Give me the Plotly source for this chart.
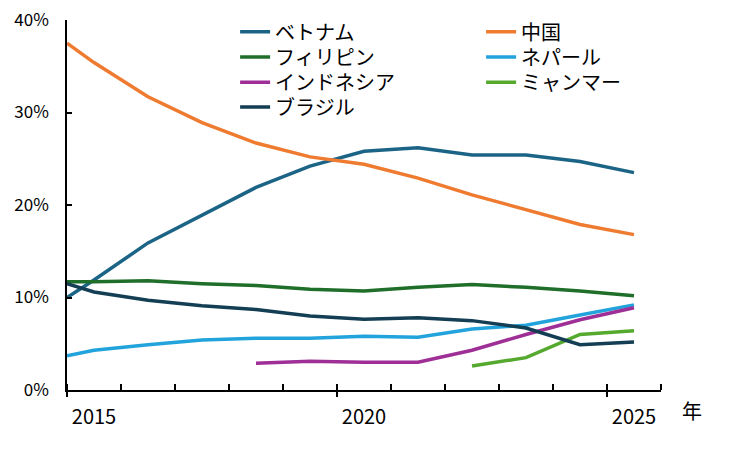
import numpy as np
import plotly.graph_objects as go

# =============================
# DATA (percent share)
# =============================
years = [2014.5, 2015, 2016, 2017, 2018, 2019, 2020, 2021, 2022, 2023, 2024, 2025]
years_indonesia = [2018, 2019, 2020, 2021, 2022, 2023, 2024, 2025]
years_myanmar = [2022, 2023, 2024, 2025]

vietnam = [10.0, 11.9, 15.9, 18.9, 21.9, 24.2, 25.8, 26.2, 25.4, 25.4, 24.7, 23.5]
china = [37.5, 35.4, 31.7, 28.9, 26.7, 25.2, 24.4, 22.9, 21.1, 19.5, 17.9, 16.8]
philippines = [11.7, 11.7, 11.8, 11.5, 11.3, 10.9, 10.7, 11.1, 11.4, 11.1, 10.7, 10.2]
nepal = [3.7, 4.3, 4.9, 5.4, 5.6, 5.6, 5.8, 5.7, 6.6, 7.0, 8.1, 9.2]
brazil = [11.5, 10.6, 9.7, 9.1, 8.7, 8.0, 7.65, 7.8, 7.5, 6.7, 4.9, 5.2]
indonesia = [2.9, 3.1, 3.0, 3.0, 4.3, 6.0, 7.6, 8.9]
myanmar = [2.6, 3.5, 6.0, 6.4]

label_years = [2015, 2020, 2025]
label_text = ["2015", "2020", "2025"]
y_ticks = [0, 10, 20, 30, 40]
y_text = ["0%", "10%", "20%", "30%", "40%"]

FONT = "Noto Sans CJK JP"

# (name, x, y, color, legend row)
series = [
    ("ベトナム", years, vietnam, "#1c6486", "legend"),
    ("中国", years, china, "#ee7b30", "legend"),
    ("フィリピン", years, philippines, "#1f6e2a", "legend2"),
    ("ネパール", years, nepal, "#22a3dc", "legend2"),
    ("インドネシア", years_indonesia, indonesia, "#9e2f96", "legend3"),
    ("ミャンマー", years_myanmar, myanmar, "#55a92f", "legend3"),
    ("ブラジル", years, brazil, "#133e54", "legend4"),
]

fig = go.Figure()
for name, xs, ys, color, leg in series:
    fig.add_trace(go.Scatter(x=xs, y=ys, name=name, mode="lines",
                             line=dict(color=color, width=3.5),
                             legend=leg, hoverinfo="skip"))

# invisible trace so the overlay axis (major tick marks) is drawn
fig.add_trace(go.Scatter(x=[years[0]], y=[None], xaxis="x2", showlegend=False,
                         hoverinfo="skip"))

x_range = [2014.5, 2025.5]
half_years = list(np.arange(2014.5, 2025.6, 1.0))

# one horizontal legend per row, so rows sit close together like the original
legend_rows = {}
for key, yc in [("legend", 0.968), ("legend2", 0.9),
                ("legend3", 0.832), ("legend4", 0.765)]:
    legend_rows[key] = dict(x=0.283, y=yc, xanchor="left", yanchor="middle",
                            orientation="h", entrywidth=201,
                            entrywidthmode="pixels", bgcolor="rgba(0,0,0,0)",
                            font=dict(size=20), itemclick=False)

# the page body adds an 8px offset, margins compensate for it
fig.update_layout(
    width=731, height=457,
    margin=dict(l=59, r=78, t=12, b=75, autoexpand=False),
    plot_bgcolor="white", paper_bgcolor="white",
    font=dict(family=FONT, size=19, color="black"),
    xaxis=dict(range=x_range, tickvals=label_years, ticktext=label_text,
               ticks="", showline=True, linecolor="black", linewidth=1.5,
               showgrid=False, zeroline=False, ticklabelstandoff=8,
               tickfont=dict(size=20), automargin=False,
               ticklabeloverflow="allow",
               minor=dict(tickvals=half_years, ticks="inside", ticklen=6,
                          tickcolor="black", tickwidth=1.5, showgrid=False)),
    xaxis2=dict(range=x_range, overlaying="x", anchor="y", side="bottom",
                tickvals=[2014.5, 2019.5, 2024.5], ticks="outside", ticklen=6,
                tickcolor="black", tickwidth=1.5, showticklabels=False,
                showline=False, showgrid=False, zeroline=False, automargin=False),
    yaxis=dict(range=[0, 40], tickvals=y_ticks, ticktext=y_text, ticks="inside",
               ticklen=5, tickcolor="black", tickwidth=1.5, showline=True,
               linecolor="black", linewidth=1.5, showgrid=False, zeroline=False,
               ticklabelstandoff=13, automargin=False, tickfont=dict(size=17),
               ticklabeloverflow="allow"),
    annotations=[dict(text="年", xref="paper", yref="paper", x=1.052, y=-0.055,
                      xanchor="center", yanchor="middle",
                      showarrow=False, font=dict(size=20))],
    **legend_rows,
)

fig.write_html("out.html")
